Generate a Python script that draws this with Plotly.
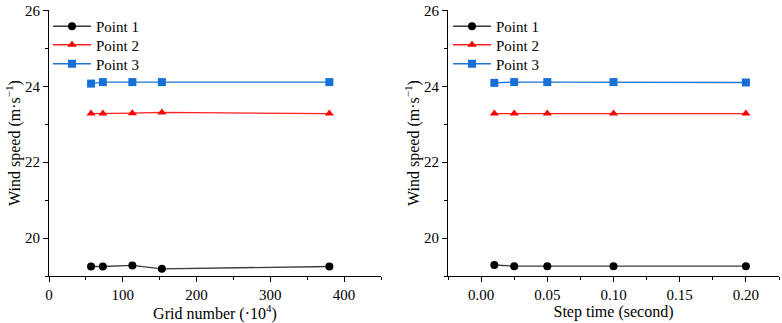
import plotly.graph_objects as go

# Data
grid_x = [57, 73, 113, 153, 380]
grid_p1 = [19.25, 19.25, 19.28, 19.19, 19.25]
grid_p2 = [23.28, 23.28, 23.29, 23.31, 23.28]
grid_p3 = [24.07, 24.11, 24.11, 24.11, 24.11]

step_x = [0.01, 0.025, 0.05, 0.10, 0.20]
step_p1 = [19.29, 19.26, 19.26, 19.26, 19.26]
step_p2 = [23.28, 23.28, 23.28, 23.28, 23.28]
step_p3 = [24.09, 24.11, 24.11, 24.11, 24.10]

y_ticks = [20, 22, 24, 26]

series_names = ["Point 1", "Point 2", "Point 3"]
line_colors = ["#3a3a3a", "#ff2020", "#1a78d6"]
marker_colors = ["#000000", "#ff0000", "#1670d8"]
symbols = ["circle", "triangle-up", "square"]

W, H = 782, 323
FONT = "Liberation Serif"

def px_x(p):
    return p / W

def px_y(p):
    return 1 - p / H

fig = go.Figure()

legend_rows = [26.5, 45, 64]
panels = [
    (grid_x, [grid_p1, grid_p2, grid_p3], "x", "y", 48),
    (step_x, [step_p1, step_p2, step_p3], "x2", "y2", 448),
]
legend_layout = {}
k = 0
for (xs, ys_list, xa, ya, lx) in panels:
    for i, ys in enumerate(ys_list):
        k += 1
        lname = "legend" if k == 1 else f"legend{k}"
        fig.add_trace(go.Scatter(
            x=xs, y=ys, name=series_names[i], mode="lines+markers",
            line=dict(color=line_colors[i], width=1.3),
            marker=dict(symbol=symbols[i], color=marker_colors[i], size=8),
            xaxis=xa, yaxis=ya, legend=lname,
        ))
        legend_layout[lname] = dict(
            x=px_x(lx), y=px_y(legend_rows[i]), xanchor="left", yanchor="middle",
            bgcolor="rgba(0,0,0,0)", font=dict(family=FONT, size=15, color="#000"),
            itemwidth=38, tracegroupgap=0,
        )

axis_common = dict(
    showline=True, linecolor="#000", linewidth=1.2, mirror=False,
    ticks="outside", ticklen=5, tickwidth=1.2, tickcolor="#000",
    showgrid=False, zeroline=False, automargin=False,
    tickfont=dict(family=FONT, size=15, color="#000"),
    title_font=dict(family=FONT, size=16, color="#000"),
)
minor = dict(ticks="outside", ticklen=3, tickwidth=1.2, tickcolor="#000", showgrid=False)

fig.update_layout(
    width=W, height=H,
    margin=dict(l=0, r=0, t=0, b=0),
    paper_bgcolor="white", plot_bgcolor="white",
    font=dict(family=FONT, color="#000"),
    xaxis=dict(domain=[px_x(49), px_x(381)], range=[0, 450], tick0=0, dtick=100,
               minor=dict(dtick=50, **minor),
               title=dict(text="Grid number (·10<sup>4</sup>)", standoff=2),
               anchor="y", **axis_common),
    yaxis=dict(domain=[px_y(276), px_y(10)], range=[19, 26.01],
               tickmode="array", tickvals=y_ticks, ticklabeloverflow="allow",
               minor=dict(dtick=1, tick0=19, **minor),
               title=dict(text="Wind speed (m·s<sup>−1</sup>)", standoff=0),
               anchor="x", **axis_common),
    xaxis2=dict(domain=[px_x(448), px_x(779)], range=[-0.025, 0.225], tick0=0, dtick=0.05,
                tickformat=".2f",
                minor=dict(dtick=0.025, **minor),
                title=dict(text="Step time (second)", standoff=2),
                anchor="y2", **axis_common),
    yaxis2=dict(domain=[px_y(276), px_y(10)], range=[19, 26.01],
                tickmode="array", tickvals=y_ticks, ticklabeloverflow="allow",
                minor=dict(dtick=1, tick0=19, **minor),
                title=dict(text="Wind speed (m·s<sup>−1</sup>)", standoff=0),
                anchor="x2", **axis_common),
    showlegend=True,
    **legend_layout,
)

fig.write_html(
    "out.html",
    config={"displayModeBar": False},
    post_script="document.body.style.margin='0px';document.body.style.overflow='hidden';",
)
